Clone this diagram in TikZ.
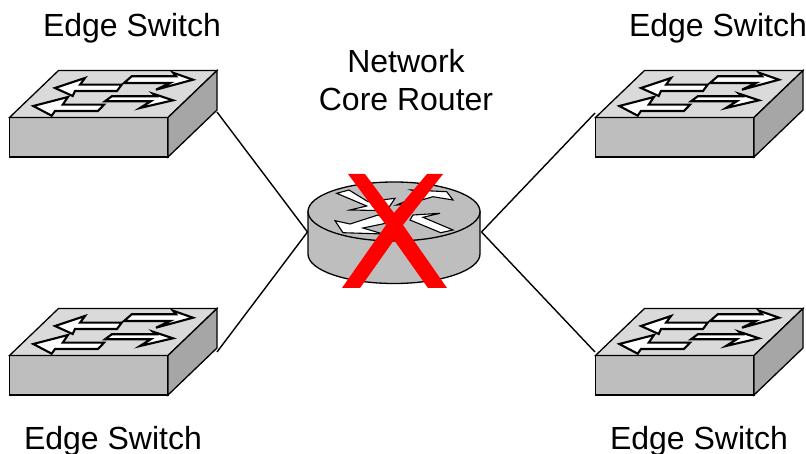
\documentclass[tikz,border=0pt]{standalone}
\usepackage{fontspec}
\setmainfont{Liberation Sans}
\definecolor{front}{HTML}{BEBEBE}
\definecolor{topc}{HTML}{DADADA}
\definecolor{sidec}{HTML}{A6A6A6}
\tikzset{
  x=1pt,y=-1pt,
  lbl/.style={font=\fontsize{32}{38}\selectfont,inner sep=0pt,align=center},
  body/.style={draw=black,line width=1.3pt,line join=miter},
  arr/.style={fill=white,draw=black,line width=2.1pt,line join=miter},
  rarr/.style={fill=white,draw=black,line width=1.1pt,line join=miter},
  link/.style={draw=black,line width=1.4pt},
  cross/.style={fill=red,draw=none},
  pics/switchbox/.style={code={
    \path[body,fill=front] (9.5,117.5) rectangle (168,157);
    \path[body,fill=topc] (9.5,117.5) -- (58.5,70.5) -- (217,70.5) -- (168,117.5) -- cycle;
    \path[body,fill=sidec] (168,117.5) -- (217,70.5) -- (217,110) -- (168,157) -- cycle;
    \path[arr] (55,88) -- (85,78) -- (80,84.7) -- (121.7,84.7) -- (117,91) -- (75,91) -- (72.7,96) -- cycle;
    \path[arr] (33.3,106) -- (68,97) -- (62.7,104.7) -- (104,104.7) -- (98,111) -- (55,111) -- (51.7,115.7) -- cycle;
    \path[arr] (193,79.7) -- (173,72.7) -- (176,76.3) -- (131.7,76.3) -- (124,83) -- (170,83) -- (156,89.7) -- cycle;
    \path[arr] (173,100.3) -- (153,93.7) -- (156,96.3) -- (111.7,96.3) -- (105,101.3) -- (150.7,101.3) -- (140,108) -- cycle;
  }}
}
\begin{document}
\begin{tikzpicture}
\useasboundingbox (0,0) rectangle (806,454);
\pic at (0,0) {switchbox};
\pic at (586,0) {switchbox};
\pic at (0,238) {switchbox};
\pic at (586,238) {switchbox};
\coordinate (tlport) at (217,112);
\coordinate (blport) at (217,352);
\coordinate (trport) at (595,113);
\coordinate (brport) at (595,352);
\coordinate (rl) at (307.5,232);
\coordinate (rr) at (481.5,232);
\draw[link] (tlport) -- (rl);
\draw[link] (blport) -- (rl);
\draw[link] (trport) -- (rr);
\draw[link] (brport) -- (rr);
% router
\path[body,fill=front] (308,211.5) -- (308,254) arc[x radius=86,y radius=29.5,start angle=180,end angle=0] -- (480,211.5) -- cycle;
\path[body,fill=front] (394,211.5) ellipse[x radius=86,y radius=29.5];
\path[rarr] (336.7,193.3) -- (349,190) -- (368,201.7) -- (395,198.3) -- (386.7,210.7) -- (350,210) -- (366.7,206) -- cycle;
\path[rarr] (453,200) -- (446.7,191.7) -- (411,190) -- (423,194) -- (396.7,205) -- (408,204) -- (433,196.7) -- cycle;
\path[rarr] (335,220.7) -- (350,224) -- (378,215) -- (392,222) -- (363,228) -- (383,234) -- (343,232.7) -- cycle;
\path[rarr] (453,230) -- (440.7,232.7) -- (410,220) -- (413,215) -- (440,213.3) -- (423,217.3) -- cycle;
% X
\path[cross] (348,174) -- (365,174) -- (394,213) -- (427,174) -- (443,174) -- (403,225) -- (447,288) -- (428,288) -- (394,240) -- (360,288) -- (342,288) -- (386,225) -- cycle;
\node[lbl] (t1) at (132,28.5) {Edge Switch};
\node[lbl] (t2) at (718,28.5) {Edge Switch};
\node[lbl] (t3) at (113,441.5) {Edge Switch};
\node[lbl] (t4) at (699,441.5) {Edge Switch};
\node[lbl] (t5) at (406,61) {Network};
\node[lbl] (t6) at (406,99) {Core Router};
\end{tikzpicture}
\end{document}
